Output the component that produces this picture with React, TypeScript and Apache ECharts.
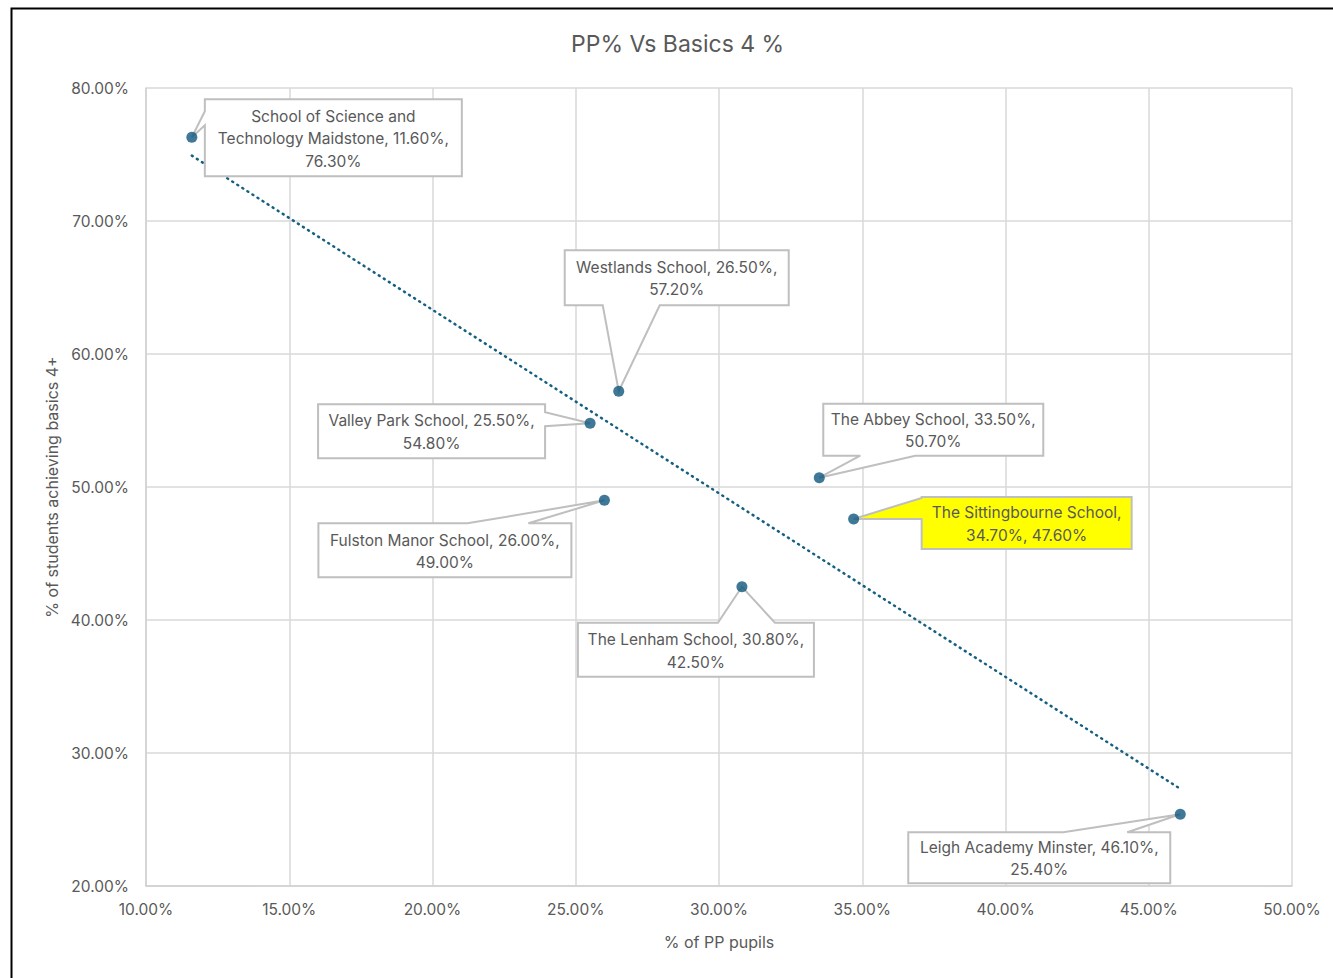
import React, { useEffect, useRef } from "react";
import * as echarts from "echarts";

const schools = [
  "School of Science and\nTechnology Maidstone",
  "Westlands School",
  "Valley Park School",
  "Fulston Manor School",
  "The Lenham School",
  "The Abbey School",
  "The Sittingbourne School",
  "Leigh Academy Minster",
];
const ppPercent = [11.6, 26.5, 25.5, 26.0, 30.8, 33.5, 34.7, 46.1];
const basics4Percent = [76.3, 57.2, 54.8, 49.0, 42.5, 50.7, 47.6, 25.4];
const xTicks = { min: 10, max: 50, interval: 5 };
const yTicks = { min: 20, max: 80, interval: 10 };

// Label callout layout (pixel offsets from the point), style only
const callouts = [
  { dx: 13, dy: -38, w: 257, h: 77, side: "left", a: 12, b: 26, lines: ["School of Science and", "Technology Maidstone, 11.60%,", "76.30%"] },
  { dx: -54, dy: -141, w: 224, h: 55, side: "bottom", a: 38, b: 95, lines: ["Westlands School, 26.50%,", "57.20%"] },
  { dx: -272, dy: -19, w: 227, h: 54, side: "right", a: 8, b: 22, lines: ["Valley Park School, 25.50%,", "54.80%"] },
  { dx: -286, dy: 23, w: 253, h: 54, side: "top", a: 149, b: 210, lines: ["Fulston Manor School, 26.00%,", "49.00%"] },
  { dx: -164, dy: 36, w: 236, h: 54, side: "top", a: 140, b: 197, lines: ["The Lenham School, 30.80%,", "42.50%"] },
  { dx: 4, dy: -74, w: 220, h: 52, side: "bottom", a: 37, b: 92, lines: ["The Abbey School, 33.50%,", "50.70%"] },
  { dx: 68, dy: -22, w: 210, h: 52, side: "left", a: 1, b: 22, lines: ["The Sittingbourne School,", "34.70%, 47.60%"], fill: "#ffff00" },
  { dx: -272, dy: 18, w: 262, h: 51, side: "top", a: 155, b: 219, lines: ["Leigh Academy Minster, 46.10%,", "25.40%"] },
];

const FONT = "Inter, 'Open Sans', sans-serif";
const TEXT = "#595959";
const ACCENT = "#156082";

function regression(xs: number[], ys: number[]) {
  const n = xs.length;
  const mx = xs.reduce((s, v) => s + v, 0) / n;
  const my = ys.reduce((s, v) => s + v, 0) / n;
  let sxy = 0, sxx = 0;
  for (let i = 0; i < n; i++) {
    sxy += (xs[i] - mx) * (ys[i] - my);
    sxx += (xs[i] - mx) * (xs[i] - mx);
  }
  const slope = sxy / sxx;
  return { slope, intercept: my - slope * mx };
}

export default function App() {
  const ref = useRef<HTMLDivElement>(null);
  useEffect(() => {
    if (!ref.current) return;
    const chart = echarts.init(ref.current, null, { renderer: "svg" });
    const { slope, intercept } = regression(ppPercent, basics4Percent);
    const xmin = Math.min(...ppPercent);
    const xmax = Math.max(...ppPercent);
    const trend = [
      [xmin, intercept + slope * xmin],
      [xmax, intercept + slope * xmax],
    ];
    const points = ppPercent.map((x, i) => [x, basics4Percent[i], i]);
    const pct = (v: number) => v.toFixed(2) + "%";

    chart.setOption({
      animation: false,
      backgroundColor: "#ffffff",
      title: {
        text: "PP% Vs Basics 4 %",
        left: 566,
        top: 27,
        textStyle: { fontFamily: FONT, fontSize: 23, fontWeight: "normal", color: TEXT },
      },
      graphic: [
        {
          type: "rect",
          left: 9,
          top: 6,
          shape: { width: 1400, height: 1100 },
          style: { fill: "none", stroke: "#000", lineWidth: 2 },
          z: 100,
        },
      ],
      grid: { left: 146, right: 41, top: 88, bottom: 92 },
      xAxis: {
        type: "value",
        min: xTicks.min,
        max: xTicks.max,
        interval: xTicks.interval,
        name: "% of PP pupils",
        nameLocation: "middle",
        nameGap: 48,
        nameTextStyle: { fontFamily: FONT, fontSize: 16, color: TEXT },
        axisLine: { show: true, lineStyle: { color: "#d0d0d0", width: 1.5 } },
        axisTick: { show: false },
        splitLine: { show: true, lineStyle: { color: "#d9d9d9", width: 1.5 } },
        axisLabel: { formatter: pct, fontFamily: FONT, fontSize: 15.5, color: TEXT, margin: 15 },
      },
      yAxis: {
        type: "value",
        min: yTicks.min,
        max: yTicks.max,
        interval: yTicks.interval,
        name: "% of students achieving basics 4+",
        nameLocation: "middle",
        nameGap: 84,
        nameTextStyle: { fontFamily: FONT, fontSize: 16, color: TEXT },
        axisLine: { show: true, lineStyle: { color: "#d0d0d0", width: 1.5 } },
        axisTick: { show: false },
        splitLine: { show: true, lineStyle: { color: "#d9d9d9", width: 1.5 } },
        axisLabel: { formatter: pct, fontFamily: FONT, fontSize: 15.5, color: TEXT, margin: 17 },
      },
      series: [
        {
          type: "line",
          data: trend,
          symbol: "none",
          silent: true,
          lineStyle: { color: ACCENT, width: 2.5, type: [1, 5], cap: "round" },
          z: 1,
        },
        {
          type: "custom",
          data: points,
          clip: false,
          z: 2,
          renderItem: (params: any, api: any) => {
            const i = api.value(2);
            const c = callouts[i];
            const p = api.coord([api.value(0), api.value(1)]);
            const x0 = p[0] + c.dx;
            const y0 = p[1] + c.dy;
            const x1 = x0 + c.w;
            const y1 = y0 + c.h;
            const tip = [p[0], p[1]];
            let pts: number[][];
            if (c.side === "top") {
              pts = [[x0, y0], [x0 + c.a, y0], tip, [x0 + c.b, y0], [x1, y0], [x1, y1], [x0, y1]];
            } else if (c.side === "bottom") {
              pts = [[x0, y0], [x1, y0], [x1, y1], [x0 + c.b, y1], tip, [x0 + c.a, y1], [x0, y1]];
            } else if (c.side === "left") {
              pts = [[x0, y0], [x1, y0], [x1, y1], [x0, y1], [x0, y0 + c.b], tip, [x0, y0 + c.a]];
            } else {
              pts = [[x0, y0], [x1, y0], [x1, y0 + c.a], tip, [x1, y0 + c.b], [x1, y1], [x0, y1]];
            }
            return {
              type: "group",
              children: [
                {
                  type: "polygon",
                  shape: { points: pts },
                  style: { fill: c.fill || "#ffffff", stroke: "#bfbfbf", lineWidth: 2 },
                },
                {
                  type: "text",
                  x: (x0 + x1) / 2,
                  y: (y0 + y1) / 2 + 1,
                  style: {
                    text: c.lines.join("\n"),
                    fill: TEXT,
                    font: `15.5px ${FONT}`,
                    lineHeight: 22.5,
                    align: "center",
                    verticalAlign: "middle",
                  },
                },
              ],
            };
          },
        },
        {
          type: "scatter",
          data: points.map((p) => [p[0], p[1]]),
          symbol: "circle",
          symbolSize: 11,
          itemStyle: { color: "#0f577d" },
          z: 3,
        },
      ],
    });
    return () => chart.dispose();
  }, []);
  return (
    <div
      ref={ref}
      style={{ position: "fixed", left: 0, top: 0, width: 1333, height: 978 }}
    />
  );
}
